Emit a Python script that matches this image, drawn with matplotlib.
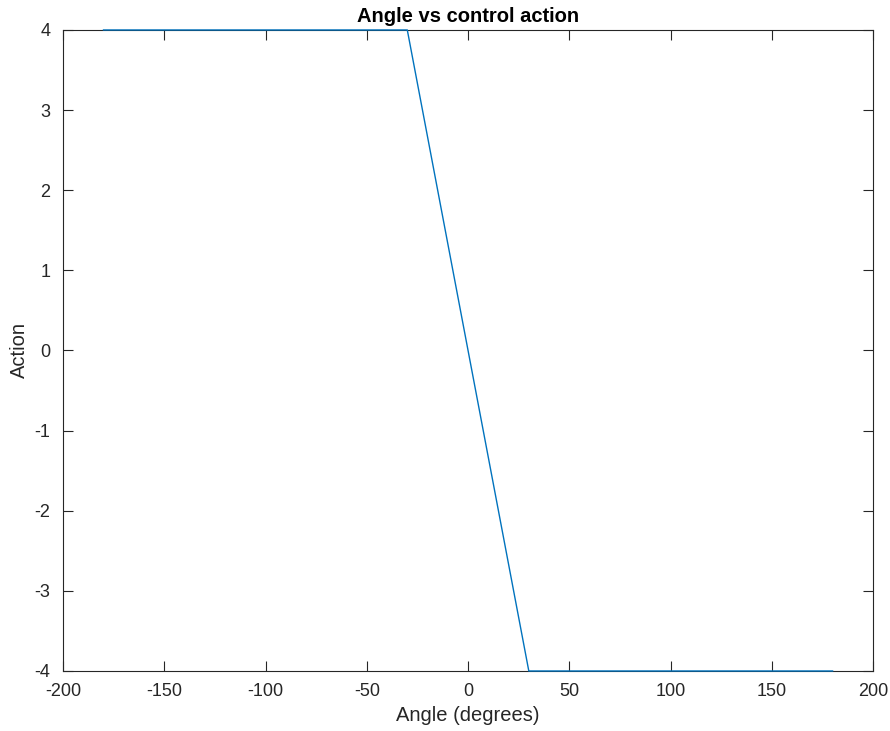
import matplotlib
matplotlib.use('Agg')
import matplotlib.pyplot as plt

# angle (degrees) vs control action, saturated at +/-4
angle = [-180, -30, 30, 180]
action = [4, 4, -4, -4]

xticks = [-200, -150, -100, -50, 0, 50, 100, 150, 200]
yticks = [-4, -3, -2, -1, 0, 1, 2, 3, 4]

plt.rcParams['font.family'] = ['Liberation Sans', 'DejaVu Sans']
plt.rcParams['axes.unicode_minus'] = False

fig = plt.figure(figsize=(8.9, 7.31), dpi=100)
ax = fig.add_axes([0.0708, 0.0821, 0.9102, 0.8769])

ax.plot(angle, action, color='#0072BD', linewidth=1.0, clip_on=False, zorder=5)

ax.set_xlim(-200, 200)
ax.set_ylim(-4, 4)
ax.set_xticks(xticks)
ax.set_yticks(yticks)
ax.tick_params(direction='in', top=True, right=True, length=7, width=0.8,
               colors='#262626', labelsize=13, labelcolor='#262626')
ax.tick_params(axis='x', pad=9)
ax.tick_params(axis='y', pad=9)
for s in ax.spines.values():
    s.set_color('#262626')
    s.set_linewidth(0.8)

ax.set_xlabel('Angle (degrees)', fontsize=14.5, color='#262626', labelpad=4)
ax.set_ylabel('Action', fontsize=14.5, color='#262626')
ax.yaxis.set_label_coords(-0.042, 0.5)
ax.set_title('Angle vs control action', fontsize=14.5, fontweight='bold', pad=6)

fig.savefig('out.png', dpi=100)
